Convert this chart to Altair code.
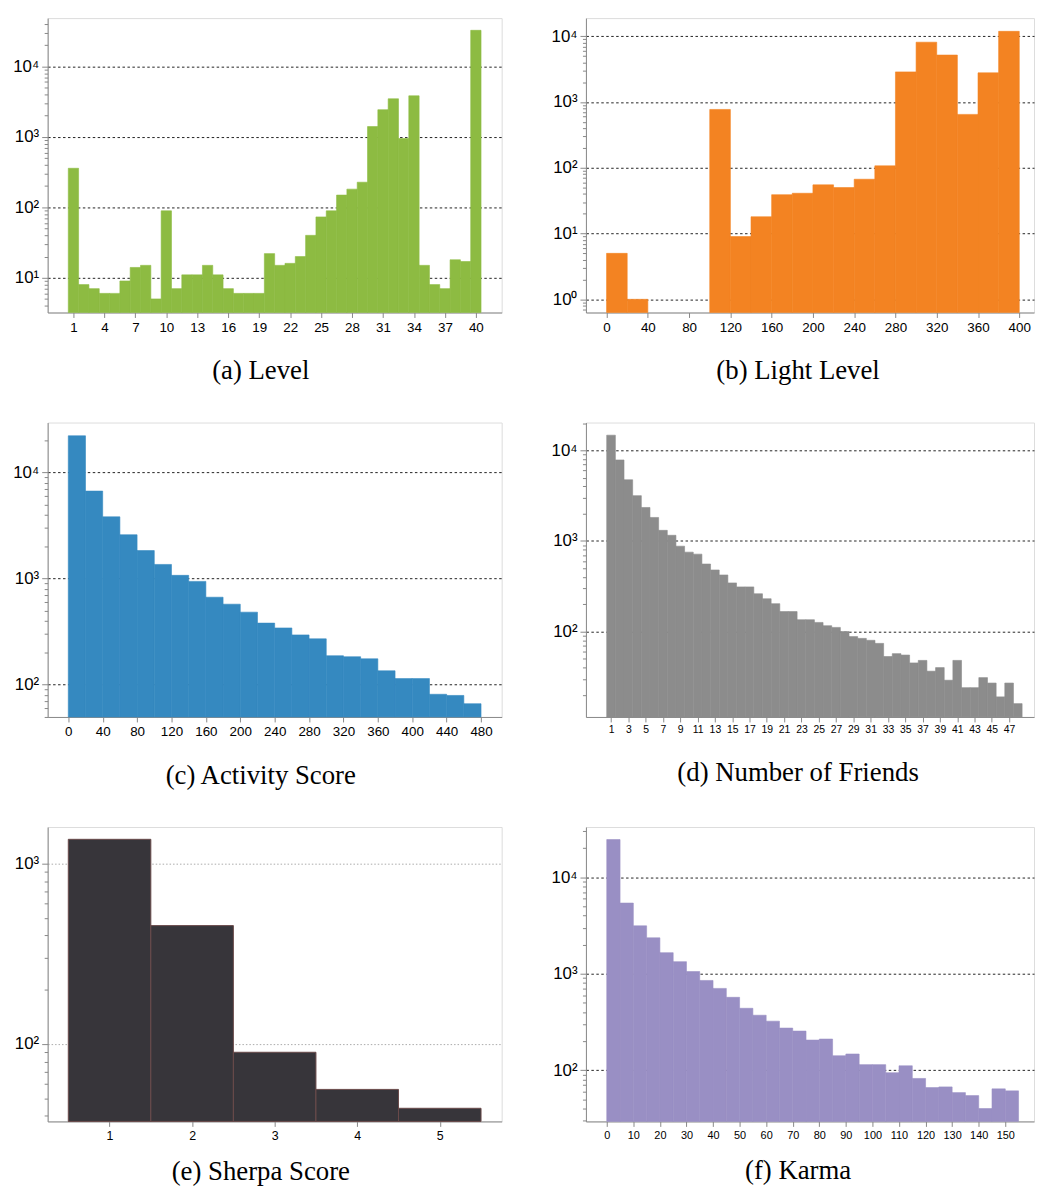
import math
import altair as alt
import pandas as pd

# ---------------- data ----------------
# (a) Level: one bin per level 1..40
level_bins = list(range(1, 41))
level_counts = [358, 8, 7, 6, 6, 9, 14, 15, 5, 89, 7, 11, 11, 15, 11, 7, 6, 6, 6, 22,
                15, 16, 20, 40, 73, 89, 149, 181, 227, 1399, 2427, 3467, 948, 3822, 15, 8, 7, 18, 17, 32500]
level_ticks = list(range(1, 41, 3))

# (b) Light Level: bins of width 20 starting at 0
light_bins = list(range(0, 400, 20))
light_counts = [5, 1, 0, 0, 0, 771, 9, 18, 39, 41, 55, 50, 67, 107, 2874, 8128, 5180, 649, 2779, 11890]
light_ticks = list(range(0, 401, 40))

# (c) Activity Score: bins of width 20 starting at 0
activity_bins = list(range(0, 480, 20))
activity_counts = [22200, 6683, 3819, 2589, 1836, 1359, 1072, 940, 667, 573, 482, 380,
                   342, 294, 270, 187, 183, 175, 135, 114, 114, 81, 79, 66]
activity_ticks = list(range(0, 481, 40))

# (d) Number of Friends: one bin per value 1..48
friends_bins = list(range(1, 49))
friends_counts = [14700, 7830, 4730, 3162, 2340, 1816, 1309, 1154, 875, 752, 715, 556, 478, 421,
                  344, 311, 311, 261, 230, 203, 166, 166, 135, 135, 126, 116, 111, 100, 88, 84,
                  80, 74, 53, 57, 55, 45, 48, 36.5, 40, 29, 48, 24, 24, 31, 27, 19, 27, 16]
friends_ticks = list(range(1, 48, 2))

# (e) Sherpa Score: one bin per score 1..5
sherpa_bins = [1, 2, 3, 4, 5]
sherpa_counts = [1367, 454, 90, 56, 44]
sherpa_ticks = [1, 2, 3, 4, 5]

# (f) Karma: bins of width 5 starting at 0
karma_bins = list(range(0, 155, 5))
karma_counts = [24600, 5400, 3135, 2355, 1652, 1333, 1052, 851, 704, 569, 438, 371, 322, 273,
                254, 205, 210, 141, 147, 114, 114, 94, 111, 82, 66, 67, 58.5, 54.5, 40, 64, 61]
karma_ticks = list(range(0, 151, 10))

# ---------------- helpers ----------------
LEFT_W = 458
RIGHT_W = 452
H = 297

IS_DEC = "abs(log(datum.value)/LN10 - round(log(datum.value)/LN10)) < 0.001"
SUP = "['\u207b\u00b9','\u2070','\u00b9','\u00b2','\u00b3','\u2074','\u2075']"
LABEL_EXPR = f"{IS_DEC} ? '10' + {SUP}[round(log(datum.value)/LN10) + 1] : ''"


def log_ticks(lo, hi):
    vals = []
    for e in range(math.floor(math.log10(lo)) - 1, math.ceil(math.log10(hi)) + 1):
        for m in range(1, 10):
            v = m * 10.0 ** e
            if lo <= v <= hi:
                vals.append(round(v, 6))
    return vals


def make_frame(starts, counts, width):
    rows = []
    for s, c in zip(starts, counts):
        if c > 0:
            rows.append({"x0": s, "x1": s + width, "count": c})
    return pd.DataFrame(rows)


def panel(df, xdom, ydom, color, xticks, caption, width, xfs, dx, cap_offset=25,
          stroke=None, grid_color="#222222", grid_dash=(2.5, 2.5)):
    yaxis = alt.Axis(
        values=log_ticks(*ydom),
        labelExpr=LABEL_EXPR,
        title=None,
        grid=True,
        gridColor=grid_color,
        gridDash=list(grid_dash),
        gridWidth=1,
        gridOpacity={"condition": {"test": IS_DEC, "value": 1}, "value": 0},
        tickSize={"condition": {"test": IS_DEC, "value": 6}, "value": 3.5},
        labelFontSize=17,
        labelPadding=3,
        labelFlush=False,
    )
    xaxis = alt.Axis(
        values=xticks,
        title=None,
        grid=False,
        tickSize=5,
        labelFontSize=xfs,
        labelPadding=3,
        labelFlush=False,
        labelOverlap=False,
        format="d",
    )
    if stroke:
        mark_kw = {"stroke": stroke, "strokeWidth": 1}
    else:
        mark_kw = {"stroke": color, "strokeWidth": 0.6}
    ch = alt.Chart(df).mark_bar(color=color, **mark_kw).encode(
        x=alt.X("x0:Q", scale=alt.Scale(domain=list(xdom), nice=False, zero=False), axis=xaxis),
        x2="x1:Q",
        y=alt.Y("count:Q", scale=alt.Scale(type="log", domain=list(ydom), nice=False, clamp=True), axis=yaxis),
        y2=alt.datum(ydom[0]),
    ).properties(
        width=width,
        height=H,
        title=alt.TitleParams(
            caption, orient="bottom", anchor="middle", frame="group",
            font="Liberation Serif", fontSize=27, fontWeight="normal",
            color="#000000", dx=dx, offset=cap_offset,
        ),
    )
    return ch


pa = panel(make_frame([b - 0.5 for b in level_bins], level_counts, 1),
           (-1.5, 42.5), (3.21, 48460), "#8dbb42", level_ticks, "(a) Level", LEFT_W, 13.5, -14)
pb = panel(make_frame(light_bins, light_counts, 20),
           (-20, -20 + RIGHT_W / 1.0408), (0.63, 18900), "#f38322", light_ticks, "(b) Light Level",
           RIGHT_W, 13.5, -12)
pc = panel(make_frame(activity_bins, activity_counts, 20),
           (-24, 504), (49.5, 29600), "#3589c0", activity_ticks, "(c) Activity Score", LEFT_W, 13.5, -14)
pd_ = panel(make_frame([b - 0.5 for b in friends_bins], friends_counts, 1),
            (-1.9, -1.9 + RIGHT_W / 8.73), (11.4, 20260), "#8c8c8c", friends_ticks,
            "(d) Number of Friends", RIGHT_W, 10.5, -12)
pe = panel(make_frame([b - 0.5 for b in sherpa_bins], sherpa_counts, 1),
           (0.25, 5.75), (37.2, 1600), "#37353a", sherpa_ticks, "(e) Sherpa Score", LEFT_W, 12.5, -14,
           cap_offset=18, stroke="#6a4a4a", grid_color="#aaaaaa", grid_dash=(1.5, 2))
pf = panel(make_frame(karma_bins, karma_counts, 5),
           (-7.84, -7.84 + RIGHT_W / 2.68), (29.4, 33200), "#998fc4", karma_ticks, "(f) Karma",
           RIGHT_W, 11, -12, cap_offset=18)

chart = alt.concat(
    pa, pb, pc, pd_, pe, pf,
    columns=2,
    spacing={"row": 111, "column": 85},
    bounds="flush",
    align="all",
).properties(
    padding={"left": 4, "top": 4, "right": 0, "bottom": 0},
).configure_view(
    fill="#e5e6e8", stroke="transparent",
).configure_axis(
    domainColor="#222222", domainWidth=1.4, tickColor="#222222", tickWidth=1,
    labelFont="DejaVu Sans", labelColor="#222222",
).configure(background="white")

chart.save("out.html", embed_options={"renderer": "svg", "actions": False})
